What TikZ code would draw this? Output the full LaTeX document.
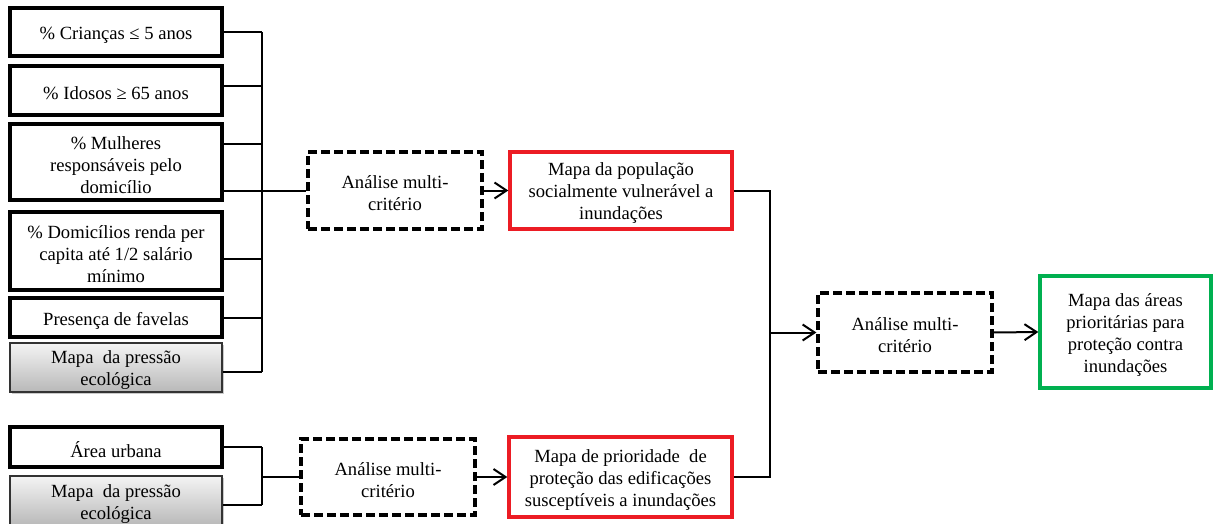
\documentclass[tikz,border=0pt]{standalone}
\usepackage{fontspec}
\setmainfont{LiberationSerif}[Extension=.ttf, UprightFont=*-Regular, BoldFont=*-Bold, ItalicFont=*-Italic]
\usetikzlibrary{arrows.meta,shadows,calc}

\definecolor{boxred}{RGB}{236,28,36}
\definecolor{boxgreen}{RGB}{0,176,80}
\definecolor{graytop}{RGB}{244,244,244}
\definecolor{graybot}{RGB}{184,184,184}

\tikzset{
  base/.style={rectangle, inner sep=0pt},
  label text/.style={inner sep=0pt, align=center,
    font=\fontsize{18.6}{22}\selectfont},
  input/.style={base, draw=black, line width=3.4pt},
  mapin/.style={base, draw=black!80, line width=1.6pt,
    top color=graytop, bottom color=graybot,
    drop shadow={shadow xshift=2pt, shadow yshift=-2pt, opacity=0.35, fill=black!60}},
  mca/.style={base, draw=black, line width=3.2pt, dash pattern=on 9pt off 4pt},
  result/.style={base, draw=boxred, line width=3.4pt},
  final/.style={base, draw=boxgreen, line width=3.4pt},
  link/.style={draw=black, line width=2pt},
  arr/.style={link, -{Straight Barb[length=12pt,width=16pt,line width=2pt]}},
}

% box by corners: name, x1, y1, x2, y2, style, text
\newcommand{\cbox}[7]{%
  \node[#6, minimum width={#4-#2}, minimum height={#5-#3}]
    (#1) at ({(#2+#4)/2},{(#3+#5)/2}) {};
  \node[label text] (#1-t) at ([yshift=-3pt]#1.center) {#7};}

\begin{document}
\begin{tikzpicture}[x=1pt, y=-1pt]
  \useasboundingbox (0,0) rectangle (1214,524);
  \clip (0,0) rectangle (1214,524);

  % social vulnerability inputs
  \cbox{b1}{10}{8}{222}{56}{input}{\% Crianças ≤ 5 anos}
  \cbox{b2}{10}{66}{222}{115}{input}{\% Idosos ≥ 65 anos}
  \cbox{b3}{10}{124}{222}{200}{input}{\% Mulheres\\responsáveis pelo\\domicílio}
  \cbox{b4}{10}{212}{222}{290}{input}{\% Domicílios renda per\\capita até 1/2 salário\\mínimo}
  \cbox{b5}{10}{298}{222}{337}{input}{Presença de favelas}
  \cbox{b6}{10}{343}{222}{392}{mapin}{Mapa\ \ da pressão\\ecológica}

  % building priority inputs
  \cbox{b7}{10}{427}{222}{467}{input}{Área urbana}
  \cbox{b8}{10}{476}{222}{526}{mapin}{Mapa\ \ da pressão\\ecológica}

  % analysis steps and results
  \cbox{d1}{308}{152}{482}{229}{mca}{Análise multi-\\critério}
  \cbox{r1}{510}{152}{732}{229}{result}{Mapa da população\\socialmente vulnerável a\\inundações}
  \cbox{d2}{301}{439}{475}{515}{mca}{Análise multi-\\critério}
  \cbox{r2}{509}{437}{732}{517}{result}{Mapa de prioridade\ \ de\\proteção das edificações\\susceptíveis a inundações}
  \cbox{d3}{818}{293}{992}{372}{mca}{Análise multi-\\critério}
  \cbox{g1}{1040}{276}{1211}{388}{final}{Mapa das áreas\\prioritárias para\\proteção contra\\inundações}

  % collector buses
  \coordinate (busA) at (262,0);
  \coordinate (busB) at (262,0);
  \coordinate (busC) at (770,0);

  % upper group of inputs
  \draw[link] (b1.east) -- (b1.east -| busA);
  \draw[link] ([yshift=4.5pt]b2.east) coordinate (b2o) -- (b2o -| busA);
  \draw[link] ([yshift=18pt]b3.east) coordinate (b3o) -- (b3o -| busA);
  \draw[link] ([yshift=-8pt]b4.east) coordinate (b4o) -- (b4o -| busA);
  \draw[link] (b5.east) -- (b5.east -| busA);
  \draw[link] ([yshift=-4pt]b6.east) coordinate (b6o) -- (b6o -| busA);
  \draw[link] (b1.east -| busA) -- (b6o -| busA);
  \draw[link] (b3.east |- d1.west) -- (d1.west);
  \draw[arr] (d1.east) -- (r1.west);

  % lower group of inputs
  \draw[link] (b7.east) -- (b7.east -| busB);
  \draw[link] ([yshift=-4pt]b8.east) coordinate (b8o) -- (b8o -| busB);
  \draw[link] (b7.east -| busB) -- (b8o -| busB);
  \draw[link] (busB |- d2.west) -- (d2.west);
  \draw[arr] (d2.east) -- (r2.west);

  % combination of both maps
  \draw[link] (r1.east) -- (r1.east -| busC) -- (r2.east -| busC) -- (r2.east);
  \draw[arr] (busC |- d3.west) -- (d3.west);
  \draw[arr] (d3.east) -- (g1.west);
\end{tikzpicture}
\end{document}
